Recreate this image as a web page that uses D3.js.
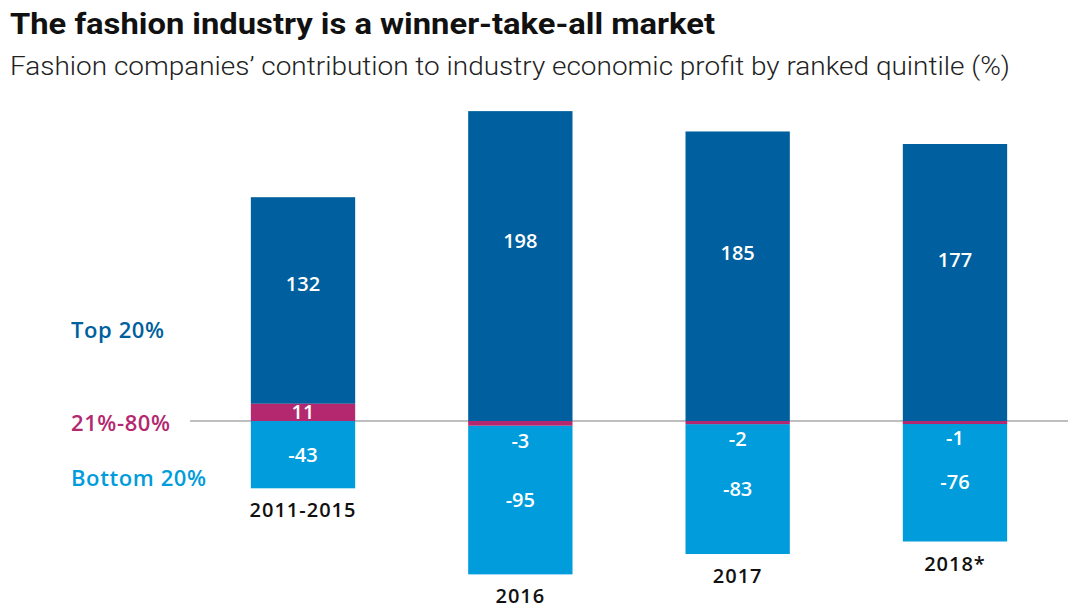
<!DOCTYPE html>
<html>
<head>
<meta charset="utf-8">
<script src="https://cdn.jsdelivr.net/npm/d3@7"></script>
<style>
  body { margin: 0; background: #fff; }
  svg { display: block; }
</style>
</head>
<body>
<svg id="main" width="1080" height="614"></svg>
<script>
// chart data
var periods = ["2011-2015", "2016", "2017", "2018*"];
var seriesNames = ["Top 20%", "21%-80%", "Bottom 20%"];
var top20 = [132, 198, 185, 177];
var mid60 = [11, -3, -2, -1];
var bottom20 = [-43, -95, -83, -76];

var colors = ["#005f9e", "#b3286f", "#009cdb"];

const width = 1080, height = 614;
var svg = d3.select('svg#main');
var labelFont = '"Open Sans", Lato, sans-serif';

var x = d3.scaleBand()
    .domain(periods)
    .range([190, 1068])
    .paddingInner(0.52)
    .paddingOuter(0.28);

// value -> pixel, zero sits at y=421
var y = d3.scaleLinear()
    .domain([-100, 200])
    .range([421 + 100 * 1.565, 421 - 200 * 1.565]);

// build stacked segments: positives go up from zero, negatives go down
var segments = [];
periods.forEach(function(p, i) {
    var pos = 0, neg = 0;
    [mid60[i], top20[i], bottom20[i]].forEach(function(v, k) {
        var s = [1, 0, 2][k];
        var y0, y1;
        if (v >= 0) { y0 = pos; y1 = pos + v; pos = y1; }
        else { y0 = neg; y1 = neg + v; neg = y1; }
        segments.push({period: p, series: s, value: v, y0: y0, y1: y1});
    });
});

// zero line, behind the bars
svg.append('line')
    .attr('x1', 190).attr('x2', 1068)
    .attr('y1', y(0)).attr('y2', y(0))
    .attr('stroke', '#aaaaaa')
    .attr('stroke-width', 1.5);

// middle strips drawn last so the thin ones stay visible
var drawOrder = segments.slice().sort((a, b) => (a.series === 1) - (b.series === 1));
svg.append('g').selectAll('rect').data(drawOrder)
    .join('rect')
    .attr('x', d => x(d.period))
    .attr('width', x.bandwidth())
    .attr('y', d => y(Math.max(d.y0, d.y1)))
    .attr('height', d => Math.max(3, Math.abs(y(d.y0) - y(d.y1))))
    .attr('fill', d => colors[d.series]);

// value labels
svg.append('g').selectAll('text').data(segments)
    .join('text')
    .attr('x', d => x(d.period) + x.bandwidth() / 2)
    .attr('y', function(d) {
        var h = Math.abs(y(d.y0) - y(d.y1));
        if (h < 12) return y(d.y1) + 22;           // thin strip: label just below
        if (d.series === 0) return y(d.y0 + (d.y1 - d.y0) * 0.58) + 7;
        return y((d.y0 + d.y1) / 2) + 7;
    })
    .attr('text-anchor', 'middle')
    .attr('fill', '#fff')
    .attr('font-family', labelFont)
    .attr('font-size', 20)
    .attr('font-weight', 600)
    .text(d => d.value);

// period labels under each bar
svg.append('g').selectAll('text').data(periods)
    .join('text')
    .attr('x', p => x(p) + x.bandwidth() / 2)
    .attr('y', (p, i) => y(Math.min(0, mid60[i]) + bottom20[i]) + 29)
    .attr('text-anchor', 'middle')
    .attr('fill', '#111')
    .attr('font-family', labelFont)
    .attr('font-size', 20)
    .attr('font-weight', 600)
    .attr('letter-spacing', 1)
    .text(p => p);

// series labels on the left
var seriesY = [330, 423, 478];
svg.append('g').selectAll('text').data(seriesNames)
    .join('text')
    .attr('x', 71)
    .attr('y', (s, i) => seriesY[i] + 8)
    .attr('fill', (s, i) => colors[i])
    .attr('font-family', labelFont)
    .attr('font-size', 22)
    .attr('font-weight', 600)
    .attr('letter-spacing', 0.6)
    .text(s => s);

// titles
svg.append('text')
    .attr('x', 10).attr('y', 34)
    .attr('font-family', 'Roboto, "Liberation Sans", sans-serif')
    .attr('font-size', 30)
    .attr('font-weight', 700)
    .attr('fill', '#111')
    .attr('textLength', 705)
    .attr('lengthAdjust', 'spacingAndGlyphs')
    .text('The fashion industry is a winner-take-all market');

svg.append('text')
    .attr('x', 10).attr('y', 75)
    .attr('font-family', 'Roboto, "Noto Sans", sans-serif')
    .attr('font-size', 26)
    .attr('font-weight', 300)
    .attr('fill', '#222')
    .attr('textLength', 1000)
    .attr('lengthAdjust', 'spacingAndGlyphs')
    .text('Fashion companies\u2019 contribution to industry economic profit by ranked quintile (%)');
</script>
</body>
</html>
